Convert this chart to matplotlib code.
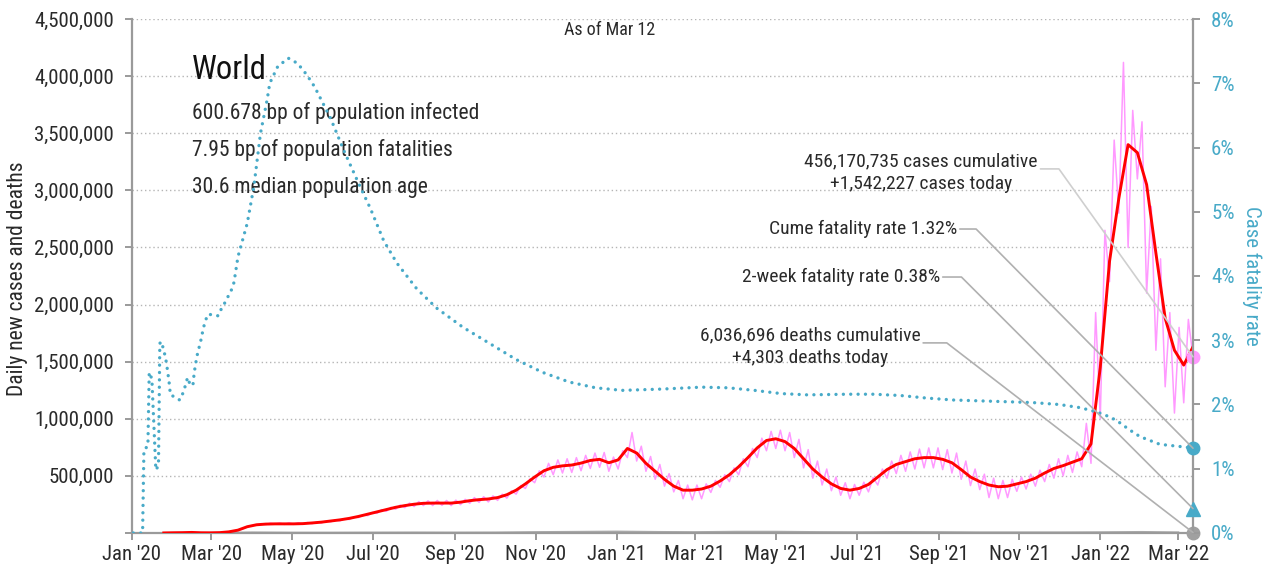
# imports
import numpy as np
import pandas as pd
import matplotlib
matplotlib.use('Agg')
import matplotlib.pyplot as plt
import matplotlib.dates as mdates
from matplotlib.ticker import FuncFormatter, MultipleLocator

plt.rcParams['font.family'] = ['Roboto Condensed', 'Archivo Narrow', 'DejaVu Sans']

# ----------------------------------------- DATA --------------------------------------------------------------------#

# 7-day average of new cases, thousands, one value per week ending Mar 12 2022
avg_cases_k = [0.5, 2, 3, 5, 2, 1.5, 3, 10, 25, 55,
               72, 78, 80, 80, 80, 82, 88, 95, 105, 115,
               128, 145, 165, 185, 205, 225, 240, 252, 260, 262,
               262, 262, 270, 283, 292, 298, 310, 335, 375, 430,
               490, 545, 575, 588, 595, 612, 635, 645, 615, 640,
               740, 700, 610, 540, 470, 410, 375, 375, 385, 410,
               455, 510, 580, 660, 745, 810, 825, 800, 740, 650,
               560, 490, 430, 390, 375, 390, 425, 490, 555, 600,
               625, 650, 660, 660, 645, 615, 555, 490, 450, 420,
               405, 410, 430, 450, 480, 525, 565, 590, 620, 650,
               780, 1450, 2380, 2930, 3400, 3330, 3050, 2450, 1880, 1600,
               1470, 1630]

# daily new cases, thousands, every half week (weekly highs and lows)
daily_cases_k = [0.5, 1, 2, 2.5, 3, 3, 5, 3, 2, 2,
                 1.5, 2, 3, 4, 10, 14, 25, 35, 55, 65,
                 72, 82, 74, 86, 78, 88, 75, 90, 76, 90,
                 76, 92, 82, 96, 88, 104, 98, 114, 106, 126,
                 118, 140, 135, 158, 152, 180, 172, 205, 190, 225,
                 208, 245, 222, 262, 232, 275, 240, 282, 240, 285,
                 242, 285, 240, 288, 248, 295, 260, 310, 268, 318,
                 272, 325, 285, 340, 305, 370, 340, 415, 390, 475,
                 440, 545, 490, 610, 510, 640, 525, 650, 530, 660,
                 545, 680, 565, 700, 575, 705, 540, 665, 560, 720,
                 660, 880, 630, 760, 540, 670, 470, 600, 410, 520,
                 360, 460, 300, 420, 290, 420, 300, 430, 355, 460,
                 400, 510, 450, 570, 510, 650, 580, 740, 660, 830,
                 720, 890, 740, 900, 720, 880, 660, 820, 570, 730,
                 480, 630, 420, 560, 370, 490, 330, 440, 300, 425,
                 330, 445, 360, 485, 420, 560, 480, 630, 520, 680,
                 540, 710, 560, 735, 570, 745, 570, 745, 555, 730,
                 525, 700, 470, 630, 415, 560, 380, 515, 310, 480,
                 300, 460, 310, 470, 365, 490, 385, 515, 410, 550,
                 450, 600, 480, 650, 500, 680, 530, 710, 580, 960,
                 610, 1930, 1000, 2650, 2200, 3440, 2800, 4120, 2500, 3700,
                 3100, 3600, 2100, 2860, 1600, 2400, 1280, 1930, 1050, 1800,
                 1140, 1870, 1540]

# daily deaths, thousands, one value per month
deaths_k = [0.01, 0.1, 1.5, 6.5, 4.5, 4.5, 5.3, 5.9, 5.4, 5.9,
            9.4, 11.5, 14.0, 10.5, 9.0, 12.5, 12.5, 9.5, 8.5, 10.0,
            9.0, 7.0, 7.0, 6.8, 8.0, 10.5, 7.0]

# case fatality rate (%), day number counted from Jan 1 2020
cfr_day = [1, 8, 9, 12, 13, 15, 18, 20, 21, 22,
           24, 26, 28, 29, 31, 36, 39, 41, 42, 44,
           46, 47, 49, 52, 54, 57, 61, 65, 67, 70,
           75, 77, 80, 87, 92, 97, 102, 104, 110, 118,
           125, 132, 138, 150, 160, 172, 180, 190, 200, 215,
           230, 250, 270, 290, 310, 330, 350, 370, 400, 430,
           450, 470, 490, 510, 540, 560, 580, 600, 620, 650,
           680, 700, 716, 729, 739, 747, 752, 761, 776, 794,
           801]
cfr_pct = [0, 0, 1.30, 1.35, 2.50, 2.40, 0.98, 1.05, 2.95, 2.98,
           2.85, 2.65, 2.35, 2.15, 2.13, 2.07, 2.20, 2.35, 2.42, 2.30,
           2.30, 2.50, 2.75, 3.00, 3.20, 3.40, 3.40, 3.38, 3.47, 3.58,
           3.78, 3.90, 4.30, 4.82, 5.39, 6.22, 6.74, 7.00, 7.26, 7.39,
           7.31, 7.13, 6.94, 6.45, 5.95, 5.40, 5.05, 4.55, 4.20, 3.80,
           3.50, 3.20, 2.95, 2.70, 2.50, 2.35, 2.26, 2.22, 2.24, 2.27,
           2.26, 2.22, 2.17, 2.15, 2.16, 2.16, 2.14, 2.10, 2.07, 2.05,
           2.03, 2.00, 1.95, 1.88, 1.80, 1.70, 1.62, 1.50, 1.38, 1.34,
           1.32]

# latest figures
last_day = '2022-03-12'
cases_cumulative = 456170735
cases_today = 1542227
deaths_cumulative = 6036696
deaths_today = 4303
cume_fatality_rate = 1.32
two_week_fatality_rate = 0.38

info_lines = ['600.678 bp of population infected',
              '7.95 bp of population fatalities',
              '30.6 median population age']

# colours
blue = '#48aac8'
pink = '#ff99ff'
grey_axis = '#9a9a9a'
text_col = '#2a2a2a'

# ----------------------------------------------- DATES ----------------------------------------------------------#

week_dates = pd.date_range(end=last_day, periods=len(avg_cases_k), freq='7D')
half_week_dates = pd.date_range(end=last_day, periods=len(daily_cases_k), freq='84h')
month_dates = pd.date_range(start='2020-01-01', periods=len(deaths_k), freq='MS')
cfr_dates = pd.Timestamp('2020-01-01') + pd.to_timedelta(cfr_day, unit='D')
end = mdates.date2num(pd.Timestamp(last_day))

# ----------------------------------------------- PLOT -----------------------------------------------------------#

fig = plt.figure(figsize=(12.67, 5.73), dpi=100)
ax = fig.add_axes([0.10418, 0.06981, 0.83741, 0.89703])

ax.plot(half_week_dates, np.array(daily_cases_k) * 1000, color=pink, lw=1.1, zorder=2)
ax.plot(week_dates, np.array(avg_cases_k) * 1000, color='#ff0000', lw=2.1, zorder=3)
ax.plot(month_dates, np.array(deaths_k) * 1000, color='#aaaaaa', lw=1.2, zorder=2)

ax.plot([end], [cases_today], 'o', color=pink, ms=9, clip_on=False, zorder=6)
ax.plot([end], [deaths_today], 'o', color='#a0a0a0', ms=9, clip_on=False, zorder=6)

ax.set_xlim(mdates.date2num(pd.Timestamp('2020-01-01')), end)
ax.set_ylim(0, 4500000)
ax.yaxis.set_major_locator(MultipleLocator(500000))
ax.yaxis.set_major_formatter(FuncFormatter(lambda v, p: '' if v == 0 else f'{int(v):,}'))
ax.xaxis.set_major_locator(mdates.MonthLocator(bymonth=[1, 3, 5, 7, 9, 11]))
ax.xaxis.set_major_formatter(mdates.DateFormatter("%b '%y"))

ax.yaxis.grid(True, linestyle=(0, (1, 2)), color='#b5b5b5', lw=1)
ax.set_axisbelow(True)

for side in ['top', 'right']:
    ax.spines[side].set_visible(False)
for side in ['left', 'bottom']:
    ax.spines[side].set_color(grey_axis)
    ax.spines[side].set_linewidth(1.6)
ax.tick_params(axis='y', colors=grey_axis, labelcolor=text_col, labelsize=15, length=5, width=1.4, pad=8)
ax.tick_params(axis='x', colors=grey_axis, labelcolor=text_col, labelsize=15, length=5, width=1.4, pad=4)

# case fatality rate on the right
ax2 = ax.twinx()
ax2.plot(cfr_dates, cfr_pct, color=blue, lw=2.4, linestyle=(0, (0.01, 2.2)),
         dash_capstyle='round', zorder=4)
ax2.plot([end], [cume_fatality_rate], 'o', color=blue, ms=9, clip_on=False, zorder=6)
ax2.plot([end], [two_week_fatality_rate], '^', color=blue, ms=10, clip_on=False, zorder=6)
ax2.set_ylim(0, 8)
ax2.yaxis.set_major_locator(MultipleLocator(1))
ax2.yaxis.set_major_formatter(FuncFormatter(lambda v, p: f'{int(v)}%'))
for side in ['top', 'left', 'bottom']:
    ax2.spines[side].set_visible(False)
ax2.spines['right'].set_color(grey_axis)
ax2.spines['right'].set_linewidth(1.6)
ax2.tick_params(axis='y', colors=grey_axis, labelcolor=blue, labelsize=15, length=5, width=1.4, pad=8)

# axis titles
fig.text(18 / 1267, 1 - 279 / 573, 'Daily new cases and deaths', rotation=90,
         ha='center', va='center', fontsize=15.5, color=text_col)
fig.text(1252 / 1267, 1 - 276 / 573, 'Case fatality rate', rotation=270,
         ha='center', va='center', fontsize=15, color=blue)

# header text
ax.text(0.4505, 0.9786, 'As of Mar 12', transform=ax.transAxes, ha='center', va='center',
        fontsize=13, color=text_col)
ax.text(0.0565, 0.9008, 'World', transform=ax.transAxes, ha='left', va='center',
        fontsize=23.5, color='#111111')
for i, line in enumerate(info_lines):
    ax.text(0.0565, 0.8171 - i * 0.0725, line, transform=ax.transAxes, ha='left', va='center',
            fontsize=15.5, color=text_col)


# call-outs pointing at the latest values
def callout(text, xy, xy_trans, pos, ha, angle_b, line_color, rel_y):
    ax2.annotate(text, xy=xy, xycoords=xy_trans, xytext=pos, textcoords='axes fraction',
                 ha=ha, va='center', multialignment='center', fontsize=14, color=text_col,
                 linespacing=1.35, annotation_clip=False, zorder=10,
                 arrowprops=dict(arrowstyle='-', color=line_color, lw=1.2, shrinkA=0, shrinkB=0,
                                 relpos=(1.0, rel_y),
                                 connectionstyle=f'angle,angleA=0,angleB={angle_b},rad=0'))


callout(f'{cases_cumulative:,} cases cumulative\n+{cases_today:,} cases today',
        (end, cases_today), ax.transData, (0.7436, 0.7004), 'center', -54.5, '#cfcfcf', 0.6)
callout(f'Cume fatality rate {cume_fatality_rate:.2f}%',
        (end, cume_fatality_rate), ax2.transData, (0.7776, 0.5914), 'right', -45.3, '#b0b0b0', 0.5)
callout(f'2-week fatality rate {two_week_fatality_rate:.2f}%',
        (end, two_week_fatality_rate), ax2.transData, (0.7615, 0.498), 'right', -45, '#b0b0b0', 0.5)
callout(f'{deaths_cumulative:,} deaths cumulative\n+{deaths_today:,} deaths today',
        (end, deaths_today), ax.transData, (0.639, 0.3619), 'center', -37.6, '#b0b0b0', 0.6)

fig.savefig('out.png', dpi=100)
